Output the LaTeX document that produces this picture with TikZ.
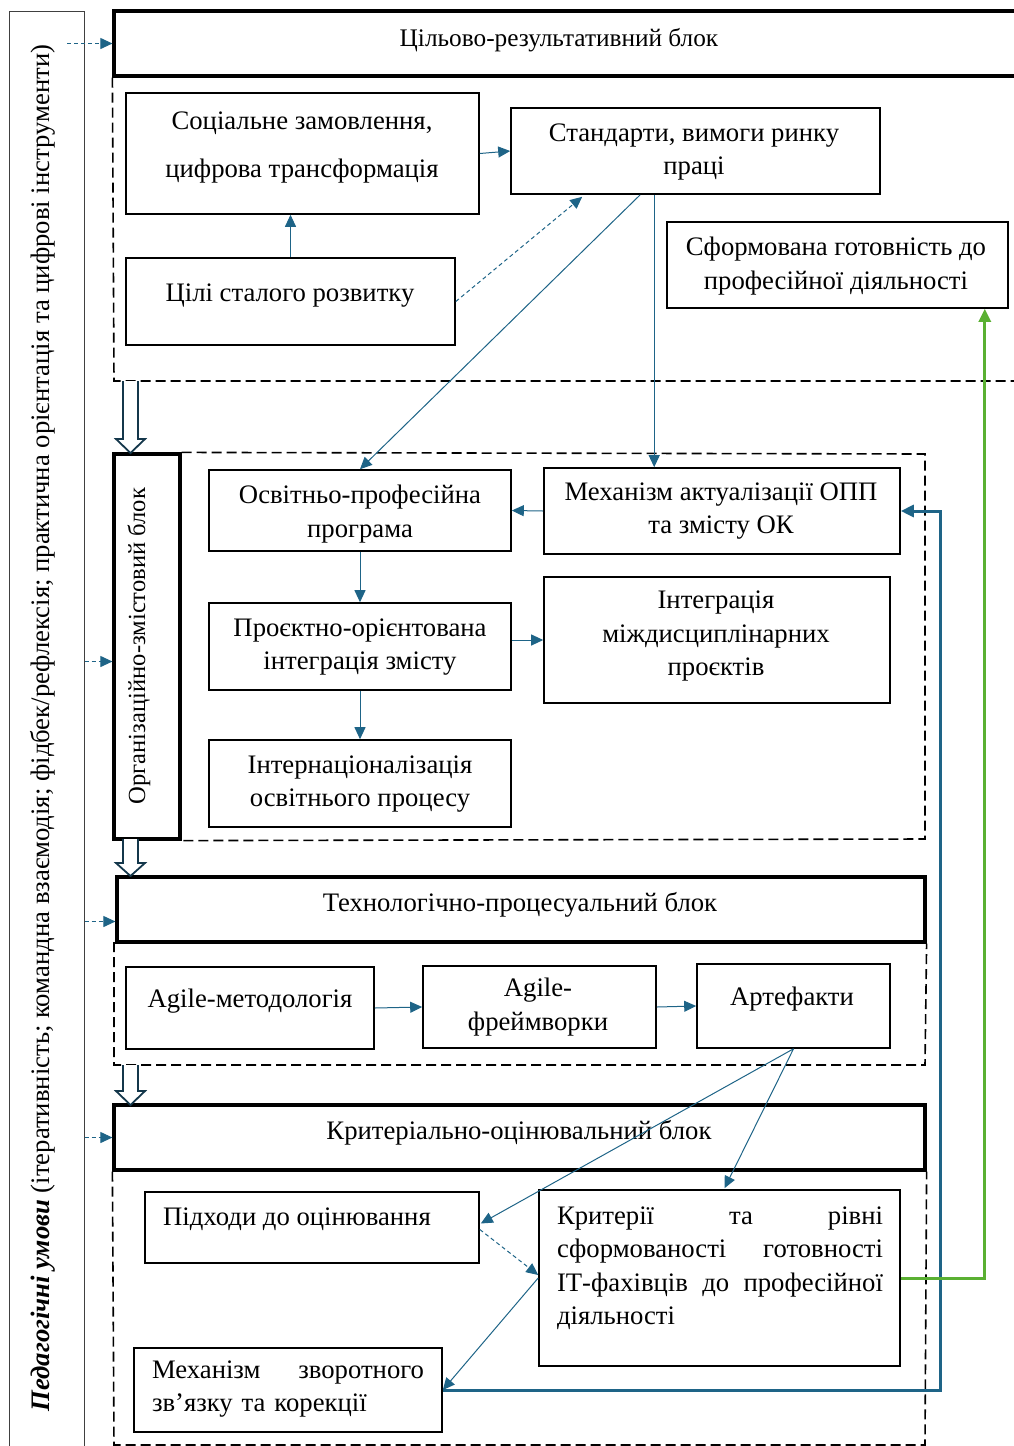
\documentclass[tikz,border=0pt]{standalone}
\usepackage{fontspec}
\setmainfont{Liberation Serif}
\usetikzlibrary{arrows.meta,calc}
\definecolor{cblue}{RGB}{30,100,135}
\definecolor{cgreen}{RGB}{90,176,50}
\definecolor{cnavy}{RGB}{20,55,75}
\begin{document}
\begin{tikzpicture}[x=1pt,y=-1pt,
  box/.style={draw=black, line width=1.6pt, inner sep=0pt},
  hdr/.style={draw=black, line width=3.2pt, inner sep=0pt},
  txt/.style={font=\fontsize{26.7}{33.5}\selectfont, inner sep=0pt, align=center},
  reg/.style={line width=1.6pt, dash pattern=on 10pt off 5pt},
  conn/.style={draw=cblue, line width=1pt, -{Triangle[length=12pt,width=11pt]}},
  dconn/.style={conn, dash pattern=on 4pt off 3pt},
  hollow/.style={draw=cnavy, line width=1.8pt, fill=white, line join=miter}]
\useasboundingbox (0,0) rectangle (1014,1446);

% left conditions box
\node[draw=black!75, line width=1pt, minimum width=75pt, minimum height=1445pt, inner sep=0pt] (lbox) at (46.5,733.5) {};
\node[txt, rotate=90] (ltxt) at (43,728) {\textbf{\textit{Педагогічні умови}} (ітеративність; командна взаємодія; фідбек/рефлексія; практична орієнтація та цифрові інструменти)};

% block 1
\node[hdr, minimum width=904pt, minimum height=65pt] (h1) at (566,43.5) {};
\node[txt, font=\fontsize{25.3}{33.5}\selectfont] (h1t) at (559,40) {Цільово-результативний блок};
\draw[reg] (h1.south west) -- (114,381) -- (1016,381);

\node[box, minimum width=353pt, minimum height=121pt] (soc) at (302.5,153.5) {};
\node[txt] (soct) at (302,147) {Соціальне замовлення,\\[14.5pt] цифрова трансформація};
\node[box, minimum width=329pt, minimum height=87pt] (cil) at (290.5,301.5) {};
\node[txt] (cilt) at (290,296) {Цілі сталого розвитку};
\node[box, minimum width=369pt, minimum height=86pt] (std) at (695.5,151) {};
\node[txt] (stdt) at (694,152) {Стандарти, вимоги ринку\\праці};
\node[box, minimum width=341pt, minimum height=86pt] (sform) at (837.5,265) {};
\node[txt] (sformt) at (836,266) {Сформована готовність до\\професійної діяльності};

% block 2
\node[hdr, minimum width=66pt, minimum height=385pt] (org) at (147,646.5) {};
\node[txt, rotate=90, font=\fontsize{24.6}{30}\selectfont] (orgt) at (139,646) {Організаційно-змістовий блок};
\draw[reg] (org.north east) -- (925,454) -- (925,839) -- (org.south east);

\node[box, minimum width=302pt, minimum height=81pt] (opp) at (360,510.5) {};
\node[txt] (oppt) at (360,514) {Освітньо-професійна\\програма};
\node[box, minimum width=302pt, minimum height=87pt] (proj) at (360,646.5) {};
\node[txt] (projt) at (360,647) {Проєктно-орієнтована\\інтеграція змісту};
\node[box, minimum width=302pt, minimum height=87pt] (intern) at (360,783.5) {};
\node[txt] (internt) at (360,784) {Інтернаціоналізація\\освітнього процесу};
\node[box, minimum width=356pt, minimum height=86pt] (mech) at (722,511) {};
\node[txt] (mecht) at (721,511) {Механізм актуалізації ОПП\\та змісту ОК};
\node[box, minimum width=346pt, minimum height=126pt] (integ) at (717,640) {};
\node[txt] (integt) at (716,636) {Інтеграція\\міждисциплінарних\\проєктів};

% block 3
\node[hdr, minimum width=808pt, minimum height=65pt] (tech) at (521,909.5) {};
\node[txt] (techt) at (520,905) {Технологічно-процесуальний блок};
\draw[reg] (114,942) -- (114,1065) -- (925,1065) -- (tech.south east);

\node[box, minimum width=248pt, minimum height=82pt] (agm) at (250,1008) {};
\node[txt] (agmt) at (250,1001) {Agile-методологія};
\node[box, minimum width=233pt, minimum height=82pt] (agf) at (539.5,1007) {};
\node[txt] (agft) at (538,1007) {Agile-\\фреймворки};
\node[box, minimum width=193pt, minimum height=84pt] (art) at (793.5,1006) {};
\node[txt] (artt) at (792,999) {Артефакти};

% block 4
\node[hdr, minimum width=811pt, minimum height=65pt] (crith) at (519.5,1137.5) {};
\node[txt] (criht) at (519,1133) {Критеріально-оцінювальний блок};
\draw[reg] (crith.south west) -- (114,1445) -- (925,1445) -- (crith.south east);

\node[box, minimum width=334pt, minimum height=71pt] (pidh) at (312,1227.5) {};
\node[txt, anchor=west] (pidht) at (163,1219) {Підходи до оцінювання};
\node[box, minimum width=361pt, minimum height=176pt] (crt) at (719.5,1278) {};
\node[txt, text width=326pt, align=left] (crtt) at (720,1268) {Критерії\hfill та\hfill рівні\\сформованості\hfill готовності\\ІТ-фахівців\hfill до\hfill професійної\\діяльності};
\node[box, minimum width=308pt, minimum height=84pt] (mzv) at (288,1390) {};
\node[txt, text width=272pt, align=left] (mzvt) at (288,1389) {Механізм\hfill зворотного\\зв’язку та корекції};

% connectors
\draw[conn] (cil.north) -- (cil.north |- soc.south);
\draw[conn] (soc.east) -- (std.west);
\draw[dconn] (cil.east) -- ($(std.south west)+(72,2)$);
\draw[conn] ($(std.south west)+(130,0)$) -- (opp.north);
\coordinate (s2) at ($(std.south west)+(144,0)$);
\draw[conn] (s2) -- (s2 |- mech.north);
\draw[conn] (mech.west) -- (opp.east);
\draw[conn] (opp.south) -- (proj.north);
\draw[conn] (proj.south) -- (intern.north);
\draw[conn] (proj.east |- integ.west) -- (integ.west);
\draw[conn] (agm.east) -- (agf.west);
\draw[conn] (agf.east) -- (art.west);
\draw[conn] (art.south) -- ($(pidh.east)+(1,-4)$);
\draw[conn] (art.south) -- ($(crt.north)+(5,-1)$);
\draw[dconn] ($(pidh.east)+(0,2)$) -- ($(crt.west)+(0,-3)$);
\draw[conn] (crt.west) -- (mzv.east);
\draw[draw=cblue, line width=3pt, -{Triangle[length=13pt,width=12pt]}] (mzv.east) -| ($(mech.east)+(40,0)$) -- (mech.east);
\draw[draw=cgreen, line width=3pt, -{Triangle[length=13pt,width=12pt]}] (crt.east) -| ($(sform.south east)+(-24,0)$);

% side dashed arrows
\draw[dconn] (67,43.5) -- (h1.west);
\coordinate (o2) at ($(org.west)+(0,15)$);
\draw[dconn] (lbox.east |- o2) -- (o2);
\coordinate (t2) at ($(tech.west)+(0,12)$);
\draw[dconn] (lbox.east |- t2) -- (t2);
\draw[dconn] (lbox.east |- crith.west) -- (crith.west);

% hollow block arrows
\draw[hollow] (123,381) -- (123,439) -- (116,439) -- (130.5,453) -- (145,439) -- (138,439) -- (138,381);
\draw[hollow] (123,839) -- (123,863) -- (116,863) -- (130.5,876) -- (145,863) -- (138,863) -- (138,839);
\draw[hollow] (123,1065) -- (123,1091) -- (116,1091) -- (130.5,1105) -- (145,1091) -- (138,1091) -- (138,1065);
\end{tikzpicture}
\end{document}
